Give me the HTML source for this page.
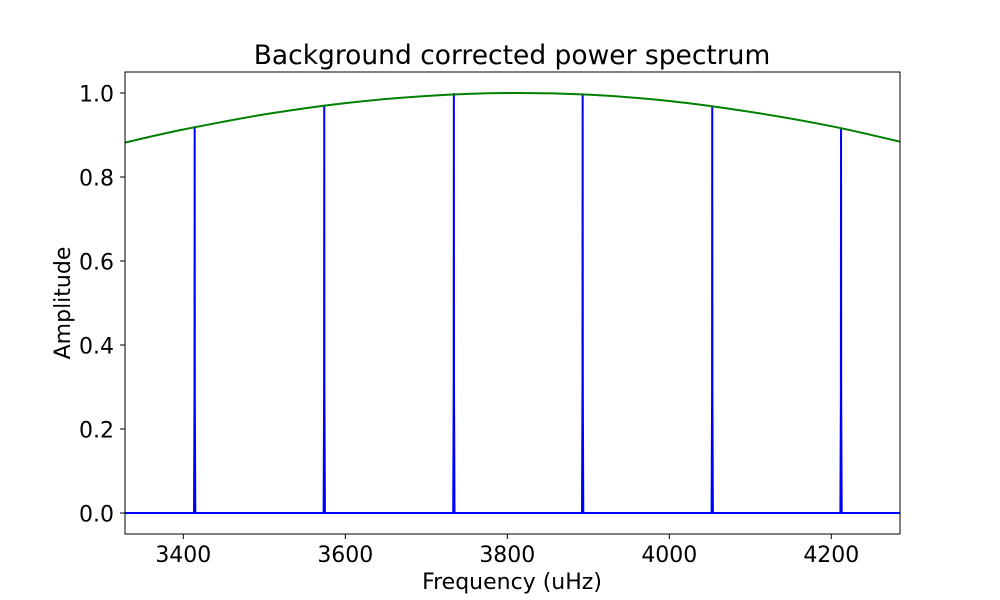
<!DOCTYPE html>
<html><head><meta charset="utf-8"><style>body{margin:0;background:#fff}svg{display:block;font-family:"DejaVu Sans","Liberation Sans",sans-serif}</style></head>
<body>
<svg id="chart" width="1000" height="600" viewBox="0 0 1000 600">
<rect x="0" y="0" width="1000" height="600" fill="#fff"/>
<text x="512" y="64" font-size="26.5" text-anchor="middle" fill="#000">Background corrected power spectrum</text>
<g id="plot"></g>
<rect x="125" y="72" width="775" height="462" fill="none" stroke="#000" stroke-width="1"/>
<text x="512" y="589" font-size="22" text-anchor="middle">Frequency (uHz)</text>
<text transform="translate(70,303) rotate(-90)" font-size="22" text-anchor="middle">Amplitude</text>
</svg>
<script>
const peakFreqs = [3414, 3574, 3734, 3893, 4053, 4212];
const peakAmps = [0.919, 0.970, 0.998, 0.997, 0.967, 0.913];
const envFreqs = [3328, 3400, 3500, 3600, 3700, 3800, 3900, 4000, 4100, 4200, 4285];
const envAmps = [0.882, 0.913, 0.949, 0.976, 0.993, 1.0, 0.996, 0.981, 0.955, 0.921, 0.884];
const xTicks = [3400, 3600, 3800, 4000, 4200];
const yTicks = [0.0, 0.2, 0.4, 0.6, 0.8, 1.0];

const X0=125,X1=900,Y0=534,Y1=72, fmin=3328.0, fmax=4284.8, amin=-0.05, amax=1.05;
const sx=f=>X0+(f-fmin)/(fmax-fmin)*(X1-X0);
const sy=a=>Y0-(a-amin)/(amax-amin)*(Y0-Y1);
const NS='http://www.w3.org/2000/svg';
const g=document.getElementById('plot');
function mk(t,attrs){const e=document.createElementNS(NS,t);for(const k in attrs)e.setAttribute(k,attrs[k]);g.appendChild(e);return e;}

xTicks.forEach(v=>{
  const l=mk('line',{x1:sx(v),x2:sx(v),y1:Y0,y2:Y0+5,stroke:'#000'});
  
  
  const t=mk('text',{x:sx(v),y:Y0+28,'font-size':22,'text-anchor':'middle'});
  
  
  t.textContent=v;
});
yTicks.forEach(v=>{
  const l=mk('line',{x1:X0-5,x2:X0,y1:sy(v),y2:sy(v),stroke:'#000'});
  
  
  const t=mk('text',{x:X0-11,y:sy(v)+8.5,'font-size':22,'text-anchor':'end'});
  
  
  t.textContent=v.toFixed(1);
});

let d='M'+X0+','+sy(0);
peakFreqs.forEach((f,i)=>{
  d+=' L'+sx(f-0.8)+','+sy(0)+' L'+sx(f-0.2)+','+sy(peakAmps[i]*0.3)+' L'+sx(f)+','+sy(peakAmps[i])+' L'+sx(f+0.2)+','+sy(peakAmps[i]*0.3)+' L'+sx(f+0.8)+','+sy(0);
});
d+=' L'+X1+','+sy(0);
const sp=mk('path',{d:d,fill:'none',stroke:'#0000ff','stroke-width':2,'stroke-linejoin':'round'});



const pts=envFreqs.map((f,i)=>[sx(f),sy(envAmps[i])]);
let e='M'+pts[0][0]+','+pts[0][1];
for(let i=0;i<pts.length-1;i++){
  const p0=pts[Math.max(0,i-1)],p1=pts[i],p2=pts[i+1],p3=pts[Math.min(pts.length-1,i+2)];
  const c1=[p1[0]+(p2[0]-p0[0])/6,p1[1]+(p2[1]-p0[1])/6];
  const c2=[p2[0]-(p3[0]-p1[0])/6,p2[1]-(p3[1]-p1[1])/6];
  e+=' C'+c1+' '+c2+' '+p2;
}
const env=mk('path',{d:e,fill:'none',stroke:'#008000','stroke-width':2});


</script>
</body></html>
